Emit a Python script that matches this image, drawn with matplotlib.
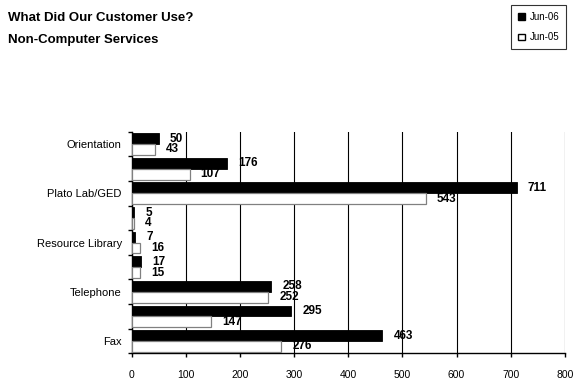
import numpy as np
import matplotlib
matplotlib.use('Agg')
import matplotlib.pyplot as plt
from matplotlib.patches import Patch

plt.rcParams['font.family'] = ['Liberation Sans', 'DejaVu Sans']

# categories top to bottom (every other label is hidden in the original)
categories = ['Orientation', '', 'Plato Lab/GED', '', 'Resource Library', '',
              'Telephone', '', 'Fax']
jun06 = [50, 176, 711, 5, 7, 17, 258, 295, 463]
jun05 = [43, 107, 543, 4, 16, 15, 252, 147, 276]
xticks = [0, 100, 200, 300, 400, 500, 600, 700, 800]

fig = plt.figure(figsize=(5.77, 3.83), dpi=100)
ax = fig.add_axes([0.228, 0.0775, 0.751, 0.5785])

y = np.arange(len(categories))
h = 0.44
ax.barh(y - h / 2, jun06, height=h, color='black', edgecolor='black',
        linewidth=0.6, zorder=3, label='Jun-06')
ax.barh(y + h / 2, jun05, height=h, color='white', edgecolor='#808080',
        linewidth=0.9, zorder=3, label='Jun-05')

# value labels
for i in range(len(categories)):
    ax.annotate(str(jun06[i]), (jun06[i], y[i] - h / 2), xytext=(8, 0),
                textcoords='offset points', va='center', ha='left',
                fontsize=8.5, fontweight='bold', zorder=4)
    ax.annotate(str(jun05[i]), (jun05[i], y[i] + h / 2), xytext=(8, 0),
                textcoords='offset points', va='center', ha='left',
                fontsize=8.5, fontweight='bold', zorder=4)

ax.set_ylim(len(categories) - 0.5, -0.5)
ax.set_xlim(0, 800)
ax.set_xticks(xticks)
ax.set_xticklabels([str(v) for v in xticks], fontsize=7.5)
ax.tick_params(axis='x', length=3, width=1, pad=9)

# category labels at centres, tick marks at boundaries
ax.set_yticks(y)
ax.set_yticklabels(categories, fontsize=8)
ax.tick_params(axis='y', which='major', length=0, pad=7)
ax.set_yticks(np.arange(len(categories) + 1) - 0.5, minor=True)
ax.tick_params(axis='y', which='minor', length=3, width=1)

ax.grid(axis='x', color='black', linewidth=0.8, zorder=0)
for s in ['top', 'right']:
    ax.spines[s].set_visible(False)
ax.spines['left'].set_linewidth(1)
ax.spines['bottom'].set_linewidth(1)

fig.text(0.014, 0.953, 'What Did Our Customer Use?', fontsize=9.5,
         fontweight='bold', va='center', ha='left')
fig.text(0.014, 0.895, 'Non-Computer Services', fontsize=9.5,
         fontweight='bold', va='center', ha='left')

handles = [Patch(facecolor='black', edgecolor='black', label='Jun-06'),
           Patch(facecolor='white', edgecolor='black', label='Jun-05')]
leg = fig.legend(handles=handles, loc='upper right',
                 bbox_to_anchor=(0.99, 1.0), fontsize=7, frameon=True,
                 fancybox=False, edgecolor='black', handlelength=0.7,
                 handleheight=0.7, handletextpad=0.5, borderpad=0.7,
                 labelspacing=1.1)
leg.get_frame().set_linewidth(0.8)

fig.savefig('out.png', dpi=100)
